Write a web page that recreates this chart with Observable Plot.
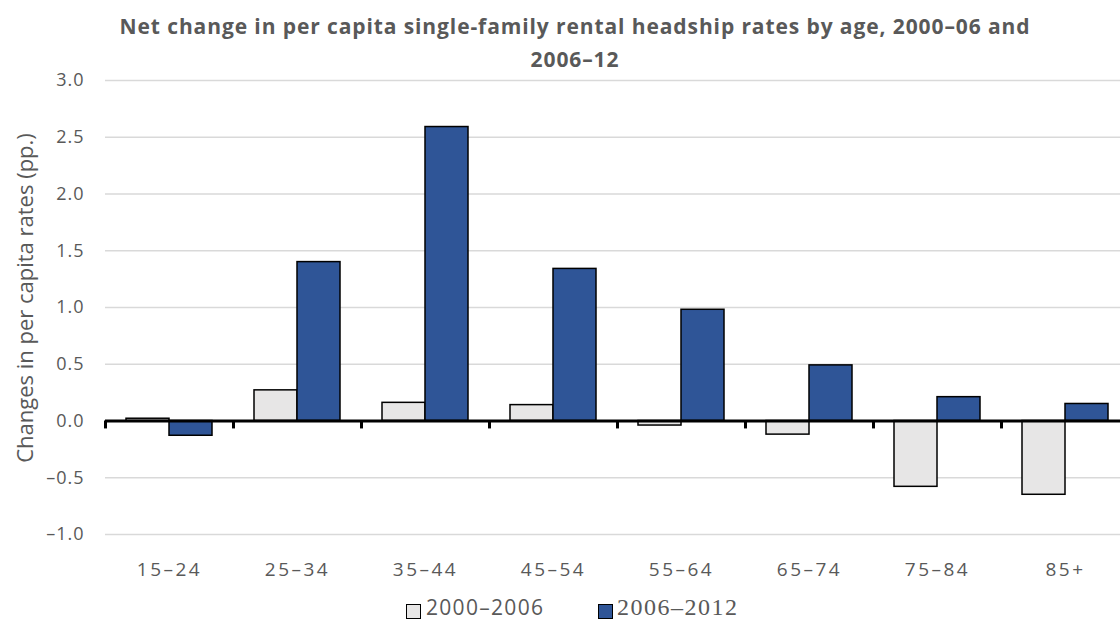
<!DOCTYPE html>
<html>
<head>
<meta charset="utf-8">
<script src="https://cdn.jsdelivr.net/npm/d3@7"></script>
<script src="https://cdn.jsdelivr.net/npm/@observablehq/plot@0.6"></script>
<style>
  html, body { margin: 0; padding: 0; background: #fff; }
  #wrap { position: relative; width: 1120px; height: 621px; overflow: hidden; font-family: "Open Sans", sans-serif; color: #595959; }
  #title { position: absolute; left: 0; top: 10px; width: 1150px; text-align: center; font-weight: 700; font-size: 21px; letter-spacing: 0.9px; line-height: 33px; color: #595959; }
  #chart { position: absolute; left: 0; top: 70px; }
  #ylabel { position: absolute; left: 24px; top: 298px; transform: translate(-50%, -50%) rotate(-90deg); white-space: nowrap; font-size: 22px; color: #595959; }
  .lg-sw { position: absolute; width: 13px; height: 13px; border: 1.5px solid #000; }
  .lg-tx { position: absolute; white-space: nowrap; color: #595959; line-height: 18px; }
</style>
</head>
<body>
<div id="wrap">
  <div id="title"></div>
  <div id="chart"></div>
  <div id="ylabel"></div>
  <div id="legend"></div>
</div>
<script>
const titleLines = ["Net change in per capita single-family rental headship rates by age, 2000–06 and", "2006–12"];
const yLabel = "Changes in per capita rates (pp.)";
const categories = ["15–24", "25–34", "35–44", "45–54", "55–64", "65–74", "75–84", "85+"];
const series = ["2000–2006", "2006–2012"];
const values2000_2006 = [0.02, 0.27, 0.16, 0.14, -0.04, -0.12, -0.58, -0.65];
const values2006_2012 = [-0.13, 1.40, 2.59, 1.34, 0.98, 0.49, 0.21, 0.15];
const yTicks = [-1, -0.5, 0, 0.5, 1, 1.5, 2, 2.5, 3];
const colors = ["#e7e6e6", "#2f5597"];

const data = [];
categories.forEach((c, i) => {
  data.push({age: c, series: series[0], value: values2000_2006[i]});
  data.push({age: c, series: series[1], value: values2006_2012[i]});
});

document.getElementById("title").innerHTML = titleLines.map(t => `<div>${t}</div>`).join("");
document.getElementById("ylabel").textContent = yLabel;

const fmt = d => (d < 0 ? "–" : "") + Math.abs(d).toFixed(1);

const chart = Plot.plot({
  width: 1120,
  height: 520,
  marginTop: 10,
  marginLeft: 104,
  marginRight: -9,
  marginBottom: 56,
  style: {color: "#595959", fontFamily: "Open Sans, sans-serif", background: "transparent", overflow: "visible"},
  fx: {domain: categories, padding: 0, label: null},
  x: {domain: series, paddingInner: 0, paddingOuter: 0.47, axis: null},
  y: {domain: [-1, 3], label: null},
  color: {domain: series, range: colors},
  marks: [
    Plot.gridY(yTicks, {stroke: "#d9d9d9", strokeOpacity: 1, strokeWidth: 1.5}),
    Plot.barY(data, {fx: "age", x: "series", y: "value", fill: "series", stroke: "#000", strokeWidth: 1.5}),
    Plot.ruleY([0], {stroke: "#000", strokeWidth: 3}),
    Plot.ruleX(categories, {fx: d => d, x: null, y1: 0, y2: -0.07, dx: -64, stroke: "#000", strokeWidth: 3}),
    Plot.axisY(yTicks, {tickSize: 0, tickPadding: 21, tickFormat: fmt, fontSize: 18, label: null, className: "yax"}),
    Plot.axisFx({anchor: "bottom", tickSize: 0, tickPadding: 28, fontSize: 19, label: null, className: "fxax"})
  ]
});
chart.querySelectorAll("text").forEach(t => t.style.letterSpacing = "1px");
chart.querySelectorAll(".fxax text").forEach(t => t.style.letterSpacing = "2.5px");
document.getElementById("chart").appendChild(chart);

// legend
const lg = document.getElementById("legend");
const lgItems = [
  {sw: 406, tx: 426, font: "'Open Sans', sans-serif", size: 21, ls: 1.3},
  {sw: 598, tx: 617, font: "'Liberation Serif', serif", size: 24, ls: 1.5}
];
series.forEach((s, i) => {
  const sw = document.createElement("div");
  sw.className = "lg-sw";
  sw.style.left = lgItems[i].sw + "px";
  sw.style.top = "604px";
  sw.style.background = colors[i];
  lg.appendChild(sw);
  const tx = document.createElement("div");
  tx.className = "lg-tx";
  tx.textContent = s;
  tx.style.left = lgItems[i].tx + "px";
  tx.style.top = "598px";
  tx.style.fontFamily = lgItems[i].font;
  tx.style.fontSize = lgItems[i].size + "px";
  tx.style.letterSpacing = lgItems[i].ls + "px";
  lg.appendChild(tx);
});
</script>
</body>
</html>
